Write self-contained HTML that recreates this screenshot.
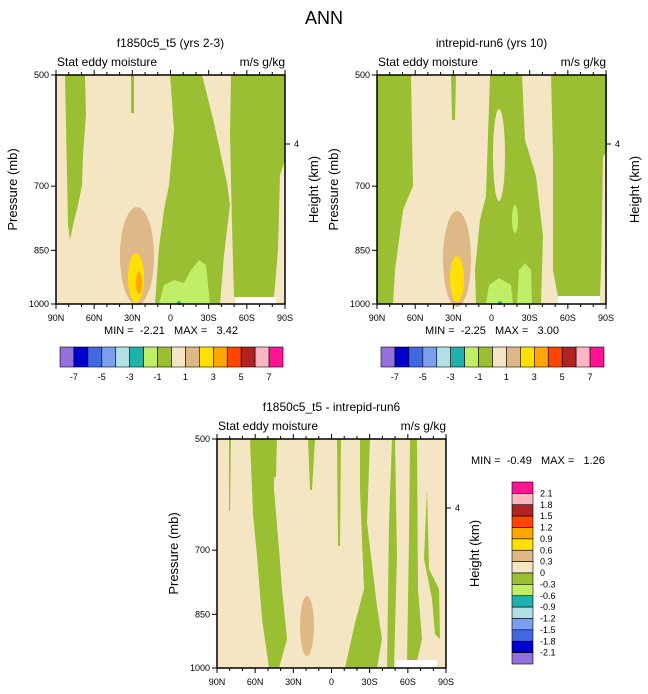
<!DOCTYPE html>
<html><head><meta charset="utf-8">
<style>
body{margin:0;background:#fff;}
svg{display:block;font-family:"Liberation Sans",sans-serif;}
.pre{white-space:pre;}
</style></head>
<body>
<svg id="chart" width="648" height="694" viewBox="0 0 648 694" xmlns="http://www.w3.org/2000/svg">
<text x="324" y="24" font-size="18" text-anchor="middle">ANN</text>
</svg>
<script>
// ---- data ----
const latTicks = ["90N","60N","30N","0","30S","60S","90S"];
const pressTicks = [500,700,850,1000];
const barLevels = ["-7","-5","-3","-1","1","3","5","7"];
const diffLevels = ["2.1","1.8","1.5","1.2","0.9","0.6","0.3","0","-0.3","-0.6","-0.9","-1.2","-1.5","-1.8","-2.1"];
const barColors = ["#9370DB","#0000CD","#4169E1","#7B9FEF","#B0E0E6","#20B2AA","#C0EE66","#9ABF33","#F5E6C3","#DEB887","#FFE000","#FFA500","#FF4500","#B22222","#FFB6C1","#FF1493"];
const minVals = ["-2.21","-2.25","-0.49"];
const maxVals = ["3.42","3.00","1.26"];

const G="#9ABF33", LG="#C0EE66", T="#F5E6C3", DT="#DEB887", Y="#FFE000", O="#FFA500", TE="#20B2AA", W="#FFFFFF";
const shapesA = [
 [G,[[9,0],[29,0],[30,40],[27,80],[26,110],[22,130],[17,150],[14,165],[12,150],[11,100],[10,50]]],
 [G,[[75,0],[78,0],[78,38],[75,38]]],
 [G,[[114,0],[146,0],[158,48],[171,108],[174,130],[168,180],[164,229],[99,229],[103,172],[108,135],[113,110],[118,55]]],
 [LG,[[103,229],[108,210],[118,205],[128,208],[135,195],[143,185],[150,190],[154,229]]],
 [G,[[175,0],[229,0],[229,85],[224,100],[222,175],[218,222],[178,222],[176,150],[174,60]]],
 [W,[[179,222],[220,222],[220,229],[179,229]]],
 [DT,"E",81,181,17,49],
 [Y,"E",80,203,8,25],
 [O,"E",83,208,3,11],
 [TE,"E",123,228,2,2]
];
const shapesB = [
 [G,[[0,0],[34,0],[36,111],[26,135],[18,195],[16,229],[0,229]]],
 [G,[[74,0],[79,0],[78,45],[75,45]]],
 [G,[[113,0],[145,0],[148,65],[159,101],[166,161],[164,229],[99,229],[98,195],[103,145],[109,121]]],
 [T,"E",122,80,6,46],
 [LG,"E",138,144,3,14],
 [LG,[[109,229],[112,210],[122,203],[134,210],[136,229]]],
 [LG,[[140,229],[142,195],[148,188],[154,195],[155,229]]],
 [G,[[174,0],[230,0],[230,75],[226,82],[224,195],[223,222],[181,222],[176,195],[176,80]]],
 [W,[[181,221],[223,221],[223,229],[181,229]]],
 [DT,"E",80,184,14,48],
 [Y,"E",80,204,7,23],
 [TE,"E",123,228,2,2]
];
const shapesC = [
 [G,[[12,0],[14,0],[13,72],[12,72]]],
 [G,[[33,0],[58,0],[57,50],[62,110],[65,150],[70,200],[62,229],[52,229],[45,180],[40,117],[36,75]]],
 [G,[[57,0],[60,0],[59,38],[57,38]]],
 [G,[[91,0],[98,0],[95,51],[93,51]]],
 [G,[[120,0],[124,0],[123,107],[121,107]]],
 [G,[[143,0],[153,0],[150,84],[160,167],[165,200],[160,229],[128,229],[138,184],[147,150],[143,51]]],
 [G,[[175,0],[178,0],[180,117],[177,229],[170,229],[172,84]]],
 [G,[[193,0],[200,0],[201,150],[205,200],[200,222],[190,222],[192,100]]],
 [G,[[210,50],[212,130],[222,150],[223,200],[218,195],[215,160],[207,120]]],
 [DT,"E",90,187,7,30],
 [W,[[179,221],[220,221],[220,229],[179,229]]]
];

const svg=document.getElementById('chart');
const NS="http://www.w3.org/2000/svg";
function mk(tag,attrs,parent){const e=document.createElementNS(NS,tag);for(const k in attrs)e.setAttribute(k,attrs[k]);(parent||svg).appendChild(e);return e;}
function txt(x,y,s,size,anchor,extra){const e=mk('text',Object.assign({x:x,y:y,'font-size':size,'text-anchor':anchor||'start'},extra||{}));e.textContent=s;return e;}
const PW=229,PH=229;
function yP(p,y0){const a=Math.log(500),b=Math.log(1000);return y0+(Math.log(p)-a)/(b-a)*PH;}
function xL(i,x0){return x0+i*PW/(latTicks.length-1);}

function panel(x0,y0,title,shapes,idx){
  const g=mk('g',{});
  
  
  const t=txt(x0+PW/2,y0-28,title,12,'middle');
  
  const s1=txt(x0+1,y0-9,"Stat eddy moisture",12,'start');
  
  const s2=txt(x0+PW,y0-9,"m/s g/kg",12,'end');
  
  const bg=mk('rect',{x:x0,y:y0,width:PW,height:PH,fill:T},g);
  
  shapes.forEach(sh=>{
    let e;
    if(sh[1]==="E"){e=mk('ellipse',{cx:x0+sh[2],cy:y0+sh[3],rx:sh[4],ry:sh[5],fill:sh[0]},g);}
    else{e=mk('polygon',{points:sh[1].map(p=>(x0+p[0])+','+(y0+p[1])).join(' '),fill:sh[0]},g);}
    
    
  });
  mk('rect',{x:x0,y:y0,width:PW,height:PH,fill:'none',stroke:'#000','stroke-width':1.5},g);
  for(let k=0;k<=18;k++){
    const x=x0+k*PW/18, major=k%3===0, L=major?5:3;
    mk('line',{x1:x,x2:x,y1:y0+PH,y2:y0+PH+L,stroke:'#000'},g);
    mk('line',{x1:x,x2:x,y1:y0,y2:y0-L,stroke:'#000'},g);
  }
  latTicks.forEach((l,i)=>{const e=txt(xL(i,x0),y0+PH+17,l,9,'middle');});
  pressTicks.forEach(p=>{const y=yP(p,y0);mk('line',{x1:x0-5,x2:x0,y1:y,y2:y,stroke:'#000'},g);
    const e=txt(x0-7,y+3,String(p),9,'end');});
  const hy=y0+69;
  mk('line',{x1:x0+PW,x2:x0+PW+5,y1:hy,y2:hy,stroke:'#000'},g);
  const h4=txt(x0+PW+9,hy+3,"4",9,'start');
  const yl=txt(0,0,"Pressure (mb)",13,'middle',{transform:`translate(${x0-39},${y0+PH/2}) rotate(-90)`});
  
  const hl=txt(0,0,"Height (km)",13,'middle',{transform:`translate(${x0+PW+33},${y0+PH/2}) rotate(-90)`});
  
}
function stats(x,y,i,anchor){
  const e=txt(x,y,`MIN =  ${minVals[i]}   MAX =   ${maxVals[i]}`,11,anchor,{'class':'pre'});
  
}
function hbar(x0,y0){
  const w=223/barColors.length;
  barColors.forEach((c,i)=>{const r=mk('rect',{x:x0+i*w,y:y0,width:w,height:20,fill:c,stroke:'#000','stroke-width':0.6});
    });
  barLevels.forEach((l,i)=>{const e=txt(x0+w*(1+2*i),y0+33,l,9,'middle');});
}
panel(56,75,"f1850c5_t5 (yrs 2-3)",shapesA,0);
panel(377,75,"intrepid-run6 (yrs 10)",shapesB,1);
panel(217,439,"f1850c5_t5 - intrepid-run6",shapesC,2);
stats(171,334,0,'middle');
stats(492,334,1,'middle');
stats(471,464,2,'start');
hbar(60,347);
hbar(381,347);
const vb=182/barColors.length;
barColors.slice().reverse().forEach((c,i)=>{const r=mk('rect',{x:512,y:482+i*vb,width:21,height:vb,fill:c,stroke:'#000','stroke-width':0.6});
  });
diffLevels.forEach((l,i)=>{const e=txt(540,482+vb*(i+1)+3,l,9,'start');});
</script>
</body></html>
